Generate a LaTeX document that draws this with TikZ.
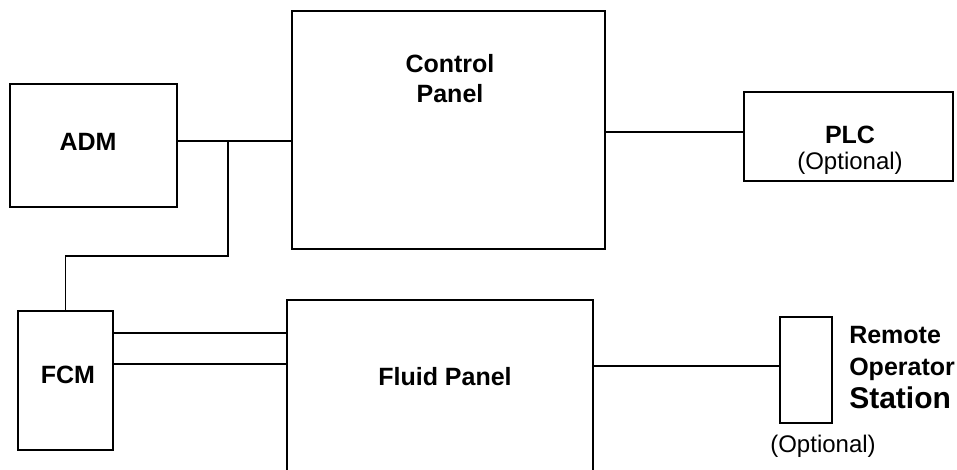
\documentclass[tikz,border=0pt]{standalone}
\usepackage{fontspec}
\setmainfont{Liberation Sans}
\usetikzlibrary{positioning}
\tikzset{
  unit/.style={draw, line width=1.3pt, inner sep=0pt},
  lbl/.style={font=\bfseries\fontsize{18.75}{22.5}\selectfont, inner sep=0pt},
  opt/.style={font=\fontsize{18}{21}\selectfont, inner sep=0pt},
  wire/.style={line width=1.3pt}
}

\begin{document}
\begin{tikzpicture}[x=0.75pt,y=-0.75pt]
    \clip (0,0) rectangle (957,469);
    % boxes
    \node[unit, minimum width=167*0.75pt, minimum height=123*0.75pt] (adm) at (93.5,145.5) {};
    \node[unit, minimum width=313*0.75pt, minimum height=238*0.75pt] (ctrl) at (448.5,130) {};
    \node[unit, minimum width=209*0.75pt, minimum height=89*0.75pt] (plc) at (848.5,136.5) {};
    \node[unit, minimum width=95*0.75pt, minimum height=139*0.75pt] (fcm) at (65.5,380.5) {};
    \node[unit, minimum width=306*0.75pt, minimum height=180*0.75pt] (fluid) at (440,390) {};
    \node[unit, minimum width=52*0.75pt, minimum height=106*0.75pt] (ros) at (806,370) {};
    % labels
    \node[lbl, anchor=base] (admtxt) at (88,150) {ADM};
    \node[lbl, anchor=base] (ctrltxt) at (450,72) {Control};
    \node[lbl, anchor=base] (ctrltxtb) at (450,102) {Panel};
    \node[lbl, anchor=base] (plctxt) at (850,143) {PLC};
    \node[opt, anchor=base] (plcopt) at (850,169) {(Optional)};
    \node[lbl, anchor=base] (fcmtxt) at (68,383) {FCM};
    \node[lbl, anchor=base] (fluidtxt) at (445,385) {Fluid Panel};
    \node[lbl, anchor=base west] (rostxt) at (849,343) {Remote};
    \node[lbl, anchor=base west] (rostxtb) at (849,375) {Operator};
    \node[lbl, anchor=base west, font=\bfseries\fontsize{22.5}{27}\selectfont] (rostxtc) at (849,408) {Station};
    \node[opt, anchor=base] (rosopt) at (823,452) {(Optional)};
    % connectors
    \coordinate (jct) at (228,141);
    \coordinate (bend) at (228,256);
    \draw[wire] (adm.east |- jct) -- (ctrl.west |- jct);
    \draw[wire] (jct) -- (bend) -- (fcm.north |- bend) -- (fcm.north);
    \draw[wire] (ctrl.east |- 0,132) -- (plc.west |- 0,132);
    \draw[wire] (fcm.east |- 0,333) -- (fluid.west |- 0,333);
    \draw[wire] (fcm.east |- 0,364) -- (fluid.west |- 0,364);
    \draw[wire] (fluid.east |- 0,366) -- (ros.west |- 0,366);
\end{tikzpicture}
\end{document}
